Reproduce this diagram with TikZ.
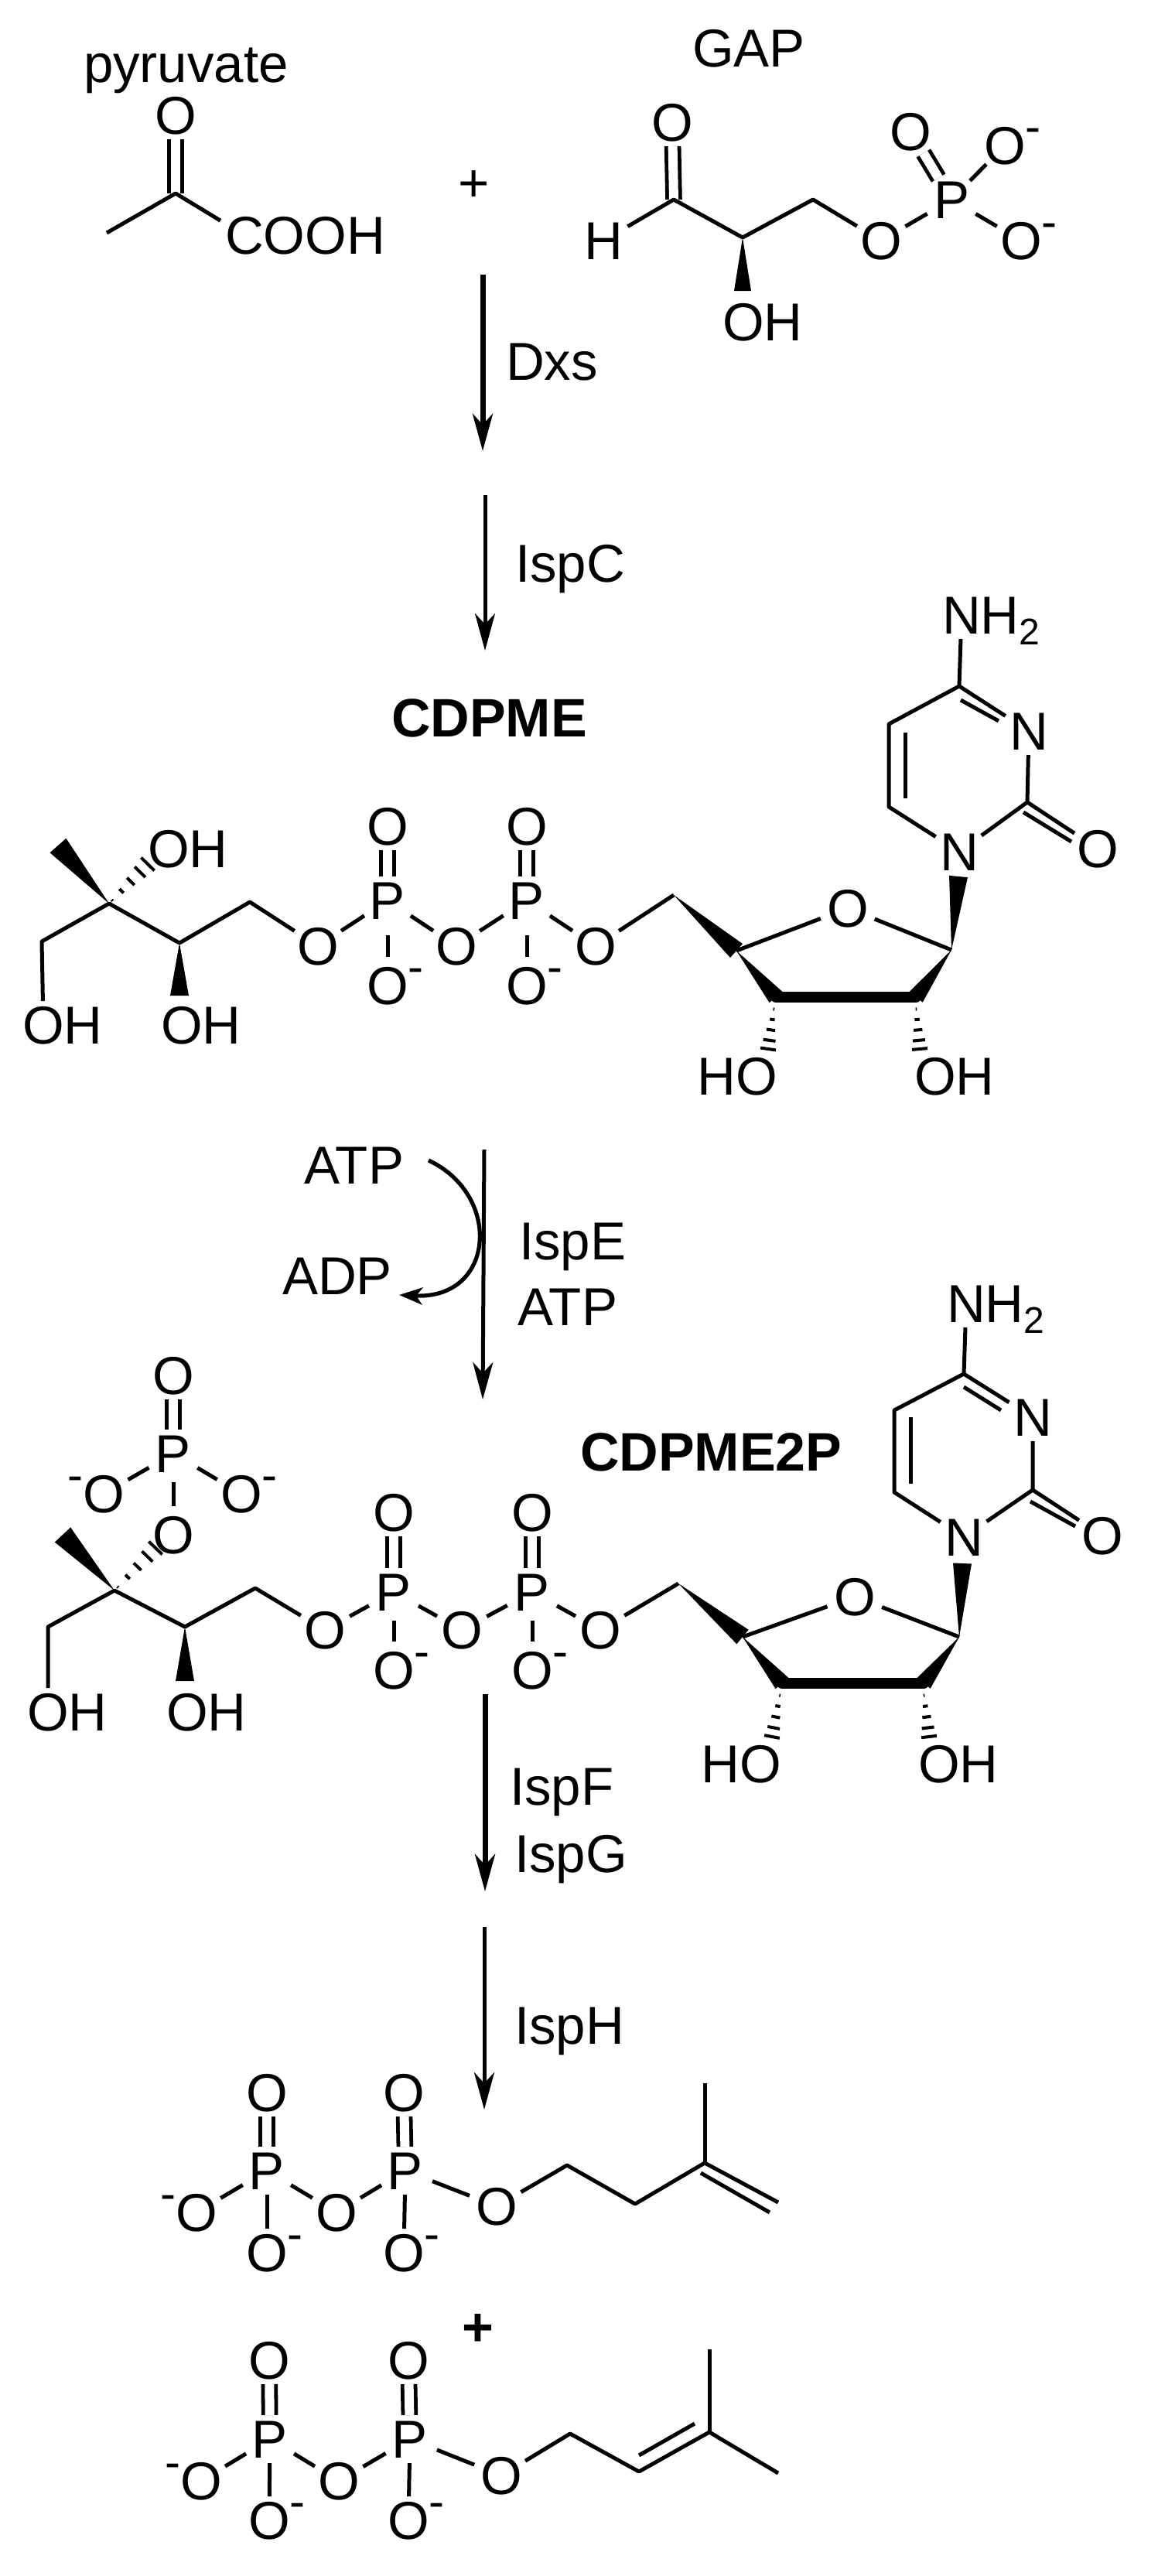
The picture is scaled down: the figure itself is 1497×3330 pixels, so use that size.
\documentclass[tikz,border=0pt]{standalone}
\usepackage{fontspec}
\setmainfont{Liberation Sans}
\usetikzlibrary{arrows.meta,calc,shapes.geometric}
\newcommand\Atm[4]{\node[atom] (#1) at (#2,#3) {\smash{\raisebox{-.358em}{\makebox[0pt]{#4}}}};}
\newcommand\OM{O\rlap{\raisebox{14pt}{\fontsize{30}{30}\selectfont -}}}
\newcommand\MO{\llap{\raisebox{14pt}{\fontsize{30}{30}\selectfont -}}O}
\newcommand\OHr{O\rlap{H}}
\newcommand\HOl{\llap{H}O}
\newcommand\NHtwo{N\rlap{H\raisebox{-7pt}{\fontsize{24}{24}\selectfont 2}}}
\newcommand\Wdg[3]{\fill[black] (#1) -- ($(#2)!#3!90:(#1)$) -- ($(#2)!#3!-90:(#1)$) -- cycle;}
\newcommand\Dsh[3]{\foreach \t in {0.08,0.32,0.56,0.8,1.0}{\pgfmathsetlengthmacro\dd{\t*#3}\coordinate (m) at ($(#1)!\t!(#2)$); \draw[line width=2pt] ($(m)!\dd!90:(#1)$) -- ($(m)!\dd!-90:(#1)$);}}
\tikzset{
  every node/.style={font=\fontsize{34.5}{40}\selectfont},
  atom/.style={shape=ellipse,inner sep=0pt,outer sep=0pt,minimum width=39pt,minimum height=31pt},
  lab/.style={anchor=base west,inner sep=0pt,outer sep=0pt},
  title/.style={anchor=base west,inner sep=0pt,outer sep=0pt,font=\fontsize{35}{40}\selectfont\bfseries},
  bond/.style={line width=2.5pt,line join=round},
  dbl/.style={line width=2.4pt,double=white,double distance=6pt},
  heavy/.style={line width=3.5pt,-{Stealth[length=24pt,width=13pt,inset=7pt]}},
  light/.style={line width=2.5pt,-{Stealth[length=24pt,width=13pt,inset=7pt]}}
}
\begin{document}
\begin{tikzpicture}[x=0.5pt,y=-0.5pt]
\useasboundingbox (0,0) rectangle (1497,3330);
% titles and labels
\node[lab] (tPyr) at (108,106) {pyruvate};
\node[lab] (tGap) at (895,86) {GAP};
\node[inner sep=0pt] (tPlus) at (613,241) {+};
\node[lab] (tDxs) at (654,491) {Dxs};
\node[lab] (tIspC) at (666,752) {IspC};
\node[title] (tCdpme) at (506,952) {CDPME};
\node[lab] (tATPa) at (393,1530) {ATP};
\node[lab] (tADP) at (365,1673) {ADP};
\node[lab] (tIspE) at (671,1628) {IspE};
\node[lab] (tATPb) at (669,1713) {ATP};
\node[title] (tCdpme2) at (750,1901) {CDPME2P};
\node[lab] (tIspF) at (659,2333) {IspF};
\node[lab] (tIspG) at (665,2420) {IspG};
\node[lab] (tIspH) at (665,2642) {IspH};
\node[inner sep=0pt,font=\fontsize{35}{40}\selectfont\bfseries] (tPlus2) at (618,3012) {+};
% reaction arrows
\coordinate (r1a) at (624,355); \coordinate (r1b) at (624,583);
\coordinate (r2a) at (627,640); \coordinate (r2b) at (627,841);
\coordinate (r3a) at (626,1486); \coordinate (r3b) at (624,1809);
\coordinate (r4a) at (627,2190); \coordinate (r4b) at (627,2445);
\coordinate (r5a) at (626,2491); \coordinate (r5b) at (626,2727);
\coordinate (r6a) at (554,1500); \coordinate (r6b) at (516,1674);
\draw[heavy] (r1a) -- (r1b);
\draw[light] (r2a) -- (r2b);
\draw[light] (r3a) -- (r3b);
\draw[heavy] (r4a) -- (r4b);
\draw[light] (r5a) -- (r5b);
\draw[line width=2.6pt,-{Stealth[length=15pt,width=11pt,inset=4pt]}] (r6a) .. controls (650,1545) and (640,1680) .. (r6b);
% pyruvate
\Atm{aO}{227}{149}{O}
\Atm{aC2}{316}{304}{C\rlap{OOH}}
\coordinate (aC) at (227,250); \coordinate (aMe) at (138,301);
\draw[dbl] (aO) -- (aC);
\draw[bond] (aMe) -- (aC) -- (aC2);
% GAP
\Atm{gO}{869}{158}{O}
\Atm{gH}{780}{311}{H}
\Atm{gOe}{1139}{311}{O}
\Atm{gP}{1230}{258}{P}
\Atm{gOd}{1177}{170}{O}
\Atm{gOa}{1299}{188}{\OM}
\Atm{gOb}{1320}{311}{\OM}
\Atm{gOH}{961}{416}{\OHr}
\coordinate (gC) at (871,258); \coordinate (gCH) at (960,307); \coordinate (gCH2) at (1051,258);
\coordinate (gW) at (960,376);
\draw[dbl] (gO) -- (gC);
\draw[bond] (gH) -- (gC) -- (gCH) -- (gCH2) -- (gOe) -- (gP) -- (gOa) (gP) -- (gOb);
\draw[dbl] (gP) -- (gOd);
\Wdg{gCH}{gW}{5.5pt}
% CDPME
\Atm{cOHa}{218}{1097}{\OHr}
\Atm{cOHb}{56}{1325}{\OHr}
\Atm{cOHc}{235}{1325}{\OHr}
\Atm{cOa}{411}{1223}{O}
\Atm{cPa}{501}{1164}{P}
\Atm{cOda}{501}{1068}{O}
\Atm{cOma}{501}{1274}{\OM}
\Atm{cOb}{590}{1223}{O}
\Atm{cPb}{681}{1164}{P}
\Atm{cOdb}{681}{1068}{O}
\Atm{cOmb}{681}{1274}{\OM}
\Atm{cOc}{770}{1223}{O}
\Atm{cOr}{1096}{1174}{O}
\Atm{cN1}{1240}{1101}{N}
\Atm{cN3}{1330}{945}{N}
\Atm{cOk}{1419}{1097}{O}
\Atm{cNH}{1243}{795}{\NHtwo}
\Atm{cHOd}{978}{1391}{\HOl}
\Atm{cOHe}{1209}{1391}{\OHr}
\coordinate (cC) at (141,1168); \coordinate (cMe) at (75,1093); \coordinate (cDa) at (191,1117);
\coordinate (cCb) at (54,1217); \coordinate (cCc) at (232,1219); \coordinate (cWc) at (232,1287);
\coordinate (cCd) at (323,1166); \coordinate (cCe) at (871,1157);
\coordinate (cR4) at (952,1229); \coordinate (cR1) at (1230,1228); \coordinate (cR2) at (1184,1289); \coordinate (cR3) at (1003,1289);
\coordinate (cWn) at (1239,1133);
\coordinate (cC2) at (1328,1037); \coordinate (cC4) at (1240,887); \coordinate (cC5) at (1149,936); \coordinate (cC6) at (1149,1043);
\coordinate (cI5) at (1170,947); \coordinate (cI6) at (1170,1032);
\coordinate (cI4) at (1242,905); \coordinate (cIn) at (1291,932);
\coordinate (cI2) at (1323,1050); \coordinate (cIo) at (1385,1088);
\coordinate (cD3a) at (1001,1300); \coordinate (cD3b) at (993,1356);
\coordinate (cD2a) at (1184,1300); \coordinate (cD2b) at (1189,1356);
\draw[bond] (cOHb) -- (cCb) -- (cC) -- (cCc) -- (cCd) -- (cOa) -- (cPa) -- (cOb) -- (cPb) -- (cOc) -- (cCe);
\draw[bond,shorten <=7pt,shorten >=3pt] (cPa) -- (cOma);
\draw[bond,shorten <=7pt,shorten >=3pt] (cPb) -- (cOmb);
\draw[dbl] (cPa) -- (cOda);
\draw[dbl] (cPb) -- (cOdb);
\Wdg{cC}{cMe}{7pt}
\Dsh{cC}{cDa}{6pt}
\Wdg{cCc}{cWc}{6pt}
\Wdg{cCe}{cR4}{6pt}
\draw[bond] (cR4) -- (cOr) -- (cR1);
\Wdg{cR4}{cR3}{5.5pt}
\Wdg{cR1}{cR2}{5.5pt}
\draw[line width=7pt,line cap=round] (cR3) -- (cR2);
\Wdg{cR1}{cWn}{6pt}
\Dsh{cD3a}{cD3b}{5pt}
\Dsh{cD2a}{cD2b}{5pt}
\draw[bond] (cNH) -- (cC4) -- (cC5) -- (cC6) -- (cN1) -- (cC2) -- (cN3) -- (cC4);
\draw[bond] (cI5) -- (cI6);
\draw[bond] (cI4) -- (cIn);
\draw[bond] (cC2) -- (cOk);
\draw[bond] (cI2) -- (cIo);
% CDPME2P
\Atm{dOt}{224}{1778}{O}
\Atm{dPt}{224}{1879}{P}
\Atm{dOl}{134}{1931}{\MO}
\Atm{dOrr}{312}{1931}{\OM}
\Atm{dOn}{224}{1984}{O}
\Atm{dOHb}{62}{2213}{\OHr}
\Atm{dOHc}{242}{2213}{\OHr}
\Atm{dOa}{420}{2107}{O}
\Atm{dPa}{509}{2058}{P}
\Atm{dOda}{509}{1955}{O}
\Atm{dOma}{509}{2159}{\OM}
\Atm{dOb}{597}{2107}{O}
\Atm{dPb}{688}{2058}{P}
\Atm{dOdb}{688}{1955}{O}
\Atm{dOmb}{688}{2159}{\OM}
\Atm{dOc}{776}{2107}{O}
\Atm{dOr}{1105}{2064}{O}
\Atm{dN1}{1246}{1987}{N}
\Atm{dN3}{1335}{1832}{N}
\Atm{dOk}{1425}{1985}{O}
\Atm{dNH}{1249}{1685}{\NHtwo}
\Atm{dHOd}{983}{2280}{\HOl}
\Atm{dOHe}{1214}{2280}{\OHr}
\coordinate (dC) at (148,2056); \coordinate (dMe) at (81,1984); \coordinate (dDa) at (201,2001);
\coordinate (dCb) at (62,2103); \coordinate (dCc) at (239,2103); \coordinate (dWc) at (239,2173);
\coordinate (dCd) at (330,2053); \coordinate (dCe) at (877,2047);
\coordinate (dR4) at (960,2116); \coordinate (dR1) at (1240,2116); \coordinate (dR2) at (1194,2176); \coordinate (dR3) at (1011,2176);
\coordinate (dWn) at (1244,2021);
\coordinate (dC2) at (1335,1926); \coordinate (dC4) at (1246,1776); \coordinate (dC5) at (1156,1823); \coordinate (dC6) at (1156,1929);
\coordinate (dI5) at (1177,1832); \coordinate (dI6) at (1177,1918);
\coordinate (dI4) at (1246,1793); \coordinate (dIn) at (1294,1823);
\coordinate (dI2) at (1332,1941); \coordinate (dIo) at (1390,1973);
\coordinate (dD3a) at (1009,2187); \coordinate (dD3b) at (998,2245);
\coordinate (dD2a) at (1194,2187); \coordinate (dD2b) at (1201,2245);
\draw[bond,shorten <=3pt,shorten >=3pt] (dPt) -- (dOn);
\draw[dbl] (dPt) -- (dOt);
\draw[bond] (dOl) -- (dPt) -- (dOrr);
\draw[bond] (dOHb) -- (dCb) -- (dC) -- (dCc) -- (dCd) -- (dOa) -- (dPa) -- (dOb) -- (dPb) -- (dOc) -- (dCe);
\draw[bond,shorten <=3pt,shorten >=3pt] (dPa) -- (dOma);
\draw[bond,shorten <=3pt,shorten >=3pt] (dPb) -- (dOmb);
\draw[dbl] (dPa) -- (dOda);
\draw[dbl] (dPb) -- (dOdb);
\Wdg{dC}{dMe}{7pt}
\Dsh{dC}{dDa}{6pt}
\Wdg{dCc}{dWc}{6pt}
\Wdg{dCe}{dR4}{6pt}
\draw[bond] (dR4) -- (dOr) -- (dR1);
\Wdg{dR4}{dR3}{5.5pt}
\Wdg{dR1}{dR2}{5.5pt}
\draw[line width=7pt,line cap=round] (dR3) -- (dR2);
\Wdg{dR1}{dWn}{6pt}
\Dsh{dD3a}{dD3b}{5pt}
\Dsh{dD2a}{dD2b}{5pt}
\draw[bond] (dNH) -- (dC4) -- (dC5) -- (dC6) -- (dN1) -- (dC2) -- (dN3) -- (dC4);
\draw[bond] (dI5) -- (dI6);
\draw[bond] (dI4) -- (dIn);
\draw[bond] (dC2) -- (dOk);
\draw[bond] (dI2) -- (dIo);
% IPP
\Atm{eOl}{254}{2860}{\MO}
\Atm{ePa}{345}{2806}{P}
\Atm{eOta}{345}{2705}{O}
\Atm{eOma}{345}{2912}{\OM}
\Atm{eOb}{435}{2860}{O}
\Atm{ePb}{524}{2806}{P}
\Atm{eOtb}{522}{2705}{O}
\Atm{eOmb}{522}{2912}{\OM}
\Atm{eOc}{642}{2852}{O}
\coordinate (eC1) at (733,2799); \coordinate (eC2) at (821,2849); \coordinate (eC3) at (911,2796);
\coordinate (eMe) at (911,2693); \coordinate (eEnd) at (1006,2847); \coordinate (eIa) at (906,2809); \coordinate (eIb) at (995,2860);
\draw[bond] (eOl) -- (ePa) -- (eOb) -- (ePb) -- (eOc) -- (eC1) -- (eC2) -- (eC3) -- (eEnd);
\draw[bond] (eMe) -- (eC3);
\draw[bond] (eIa) -- (eIb);
\draw[dbl] (ePa) -- (eOta);
\draw[dbl] (ePb) -- (eOtb);
\draw[bond] (ePa) -- (eOma);
\draw[bond] (ePb) -- (eOmb);
% DMAPP
\Atm{fOl}{260}{3207}{\MO}
\Atm{fPa}{349}{3153}{P}
\Atm{fOta}{348}{3051}{O}
\Atm{fOma}{348}{3258}{\OM}
\Atm{fOb}{438}{3207}{O}
\Atm{fPb}{530}{3153}{P}
\Atm{fOtb}{528}{3051}{O}
\Atm{fOmb}{528}{3258}{\OM}
\Atm{fOc}{648}{3200}{O}
\coordinate (fC1) at (737,3146); \coordinate (fC2) at (826,3195); \coordinate (fC3) at (917,3144);
\coordinate (fMe) at (917,3037); \coordinate (fEnd) at (1006,3197); \coordinate (fIa) at (826,3174); \coordinate (fIb) at (898,3133);
\draw[bond] (fOl) -- (fPa) -- (fOb) -- (fPb) -- (fOc) -- (fC1) -- (fC2) -- (fC3) -- (fEnd);
\draw[bond] (fMe) -- (fC3);
\draw[bond] (fIa) -- (fIb);
\draw[dbl] (fPa) -- (fOta);
\draw[dbl] (fPb) -- (fOtb);
\draw[bond] (fPa) -- (fOma);
\draw[bond] (fPb) -- (fOmb);
\end{tikzpicture}
\end{document}
